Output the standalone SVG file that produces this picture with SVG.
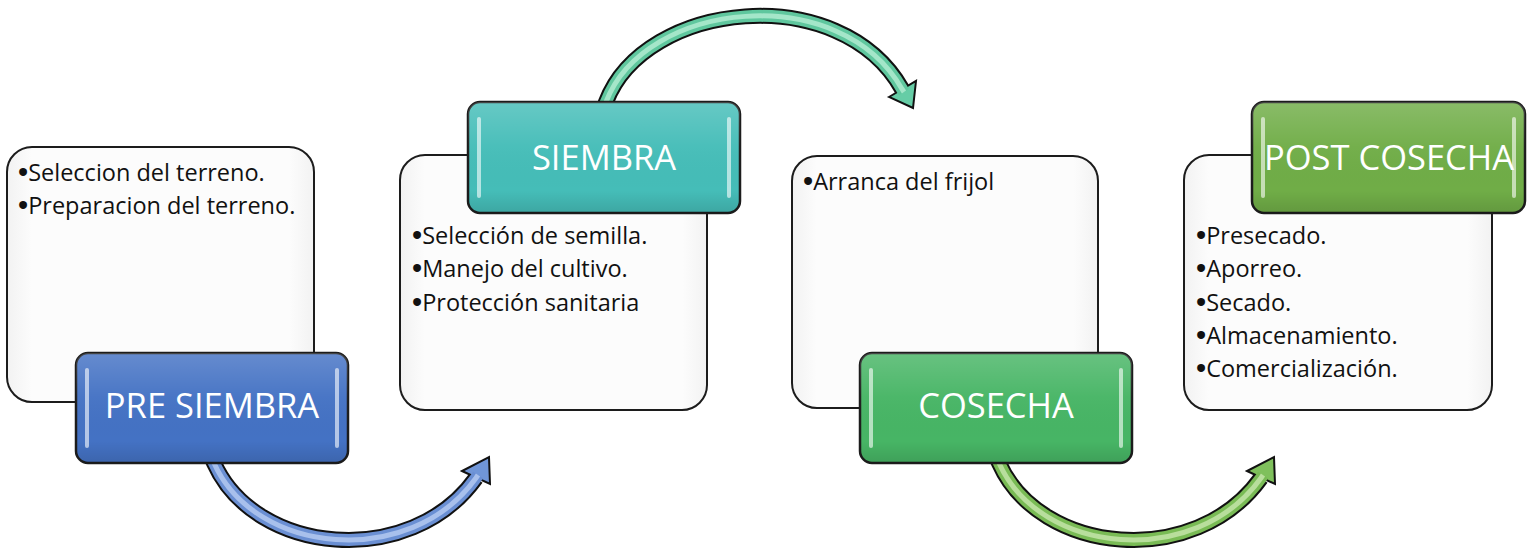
<svg xmlns="http://www.w3.org/2000/svg" width="1531" height="550" viewBox="0 0 1531 550">
<style>
.box{fill:url(#boxg);stroke:#1c1c1c;stroke-width:2}
.lbl{stroke:#1c1c1c;stroke-width:2.5}
.hl{fill:#ffffff;opacity:0.6}
.bt{font-family:"Open Sans","Liberation Sans",sans-serif;font-size:23.5px;fill:#111}
.bu{font-family:"Liberation Sans",sans-serif;font-size:29px;baseline-shift:-1px}
.lt{font-family:"Open Sans","Liberation Sans",sans-serif;font-size:34.5px;fill:#ffffff;text-anchor:middle}
.outl{fill:none;stroke:#111;stroke-width:16}
.shaft{fill:none;stroke-width:12}
.core{fill:none;stroke-width:5}
.head{stroke:#111;stroke-width:2;stroke-linejoin:miter}
</style>
<defs>
<linearGradient id="boxg" x1="0" y1="0" x2="1" y2="0">
<stop offset="0" stop-color="#f2f2f2"/><stop offset="0.08" stop-color="#fcfcfc"/><stop offset="0.92" stop-color="#fcfcfc"/><stop offset="1" stop-color="#f2f2f2"/>
</linearGradient>
<linearGradient id="gloss" x1="0" y1="0" x2="0" y2="1">
<stop offset="0" stop-color="#ffffff" stop-opacity="0.18"/><stop offset="0.4" stop-color="#ffffff" stop-opacity="0.03"/><stop offset="0.8" stop-color="#000000" stop-opacity="0"/><stop offset="1" stop-color="#000000" stop-opacity="0.12"/>
</linearGradient>
</defs>

<g id="node-presiembra-box"><rect class="box" x="7" y="147" width="307" height="255" rx="25"/>
<text class="bt" x="18" y="181"><tspan class="bu">•</tspan><tspan>Seleccion del terreno.</tspan></text>
<text class="bt" x="18" y="214"><tspan class="bu">•</tspan><tspan>Preparacion del terreno.</tspan></text></g>
<g id="node-siembra-box"><rect class="box" x="400" y="155" width="307" height="255" rx="25"/>
<text class="bt" x="412" y="244"><tspan class="bu">•</tspan><tspan>Selección de semilla.</tspan></text>
<text class="bt" x="412" y="277"><tspan class="bu">•</tspan><tspan>Manejo del cultivo.</tspan></text>
<text class="bt" x="412" y="311"><tspan class="bu">•</tspan><tspan>Protección sanitaria</tspan></text></g>
<g id="node-cosecha-box"><rect class="box" x="792" y="156" width="306" height="252" rx="25"/>
<text class="bt" x="803" y="190"><tspan class="bu">•</tspan><tspan>Arranca del frijol</tspan></text></g>
<g id="node-postcosecha-box"><rect class="box" x="1184" y="155" width="308" height="255" rx="25"/>
<text class="bt" x="1196" y="244"><tspan class="bu">•</tspan><tspan>Presecado.</tspan></text>
<text class="bt" x="1196" y="277"><tspan class="bu">•</tspan><tspan>Aporreo.</tspan></text>
<text class="bt" x="1196" y="311"><tspan class="bu">•</tspan><tspan>Secado.</tspan></text>
<text class="bt" x="1196" y="344"><tspan class="bu">•</tspan><tspan>Almacenamiento.</tspan></text>
<text class="bt" x="1196" y="377"><tspan class="bu">•</tspan><tspan>Comercialización.</tspan></text></g>

<g id="connectors">
<g id="arrow1">
<path class="outl" d="M206 445 L214 463 C255 555 410 570 476 478"/>
<polygon class="head" fill="#7096d8" points="462,471 490,484 489,457"/>
<path class="shaft" stroke="#6a8fd3" d="M206 445 L214 463 C255 555 410 570 476 478 L478 475"/>
<path class="core" stroke="#a8c0ec" d="M206 445 L214 463 C255 555 410 570 476 478 L478 475"/>
</g>
<g id="arrow2">
<path class="outl" d="M613 121 L606 102 C645 0 840 -20 902 89"/>
<polygon class="head" fill="#66cda6" points="889,97 916,81 913,108"/>
<path class="shaft" stroke="#5fc79e" d="M613 121 L606 102 C645 0 840 -20 902 89 L904 92"/>
<path class="core" stroke="#a4e6c9" d="M613 121 L606 102 C645 0 840 -20 902 89 L904 92"/>
</g>
<g id="arrow3" transform="translate(785,0)">
<path class="outl" d="M206 445 L214 463 C255 555 410 570 476 478"/>
<polygon class="head" fill="#7fc05c" points="462,471 490,484 489,457"/>
<path class="shaft" stroke="#79bb55" d="M206 445 L214 463 C255 555 410 570 476 478 L478 475"/>
<path class="core" stroke="#b8de9c" d="M206 445 L214 463 C255 555 410 570 476 478 L478 475"/>
</g>
</g>

<g id="node-presiembra">
<rect class="lbl" x="76" y="353" width="272" height="110" rx="12" fill="#4472c4"/>
<rect x="76" y="353" width="272" height="110" rx="12" fill="url(#gloss)"/>
<rect class="hl" x="85" y="368" width="4" height="80" rx="2"/><rect class="hl" x="335" y="368" width="4" height="80" rx="2"/>
<text class="lt" x="212" y="418">PRE SIEMBRA</text></g>
<g id="node-siembra">
<rect class="lbl" x="468" y="102" width="272" height="111" rx="12" fill="#45bdb8"/>
<rect x="468" y="102" width="272" height="111" rx="12" fill="url(#gloss)"/>
<rect class="hl" x="477" y="117" width="4" height="81" rx="2"/><rect class="hl" x="727" y="117" width="4" height="81" rx="2"/>
<text class="lt" x="604" y="170">SIEMBRA</text></g>
<g id="node-cosecha">
<rect class="lbl" x="860" y="353" width="272" height="110" rx="12" fill="#47b565"/>
<rect x="860" y="353" width="272" height="110" rx="12" fill="url(#gloss)"/>
<rect class="hl" x="869" y="368" width="4" height="80" rx="2"/><rect class="hl" x="1119" y="368" width="4" height="80" rx="2"/>
<text class="lt" x="996" y="418">COSECHA</text></g>
<g id="node-postcosecha">
<rect class="lbl" x="1252" y="102" width="273" height="111" rx="12" fill="#70ad47"/>
<rect x="1252" y="102" width="273" height="111" rx="12" fill="url(#gloss)"/>
<rect class="hl" x="1261" y="117" width="4" height="81" rx="2"/><rect class="hl" x="1512" y="117" width="4" height="81" rx="2"/>
<text class="lt" x="1389" y="170">POST COSECHA</text></g>
</svg>
